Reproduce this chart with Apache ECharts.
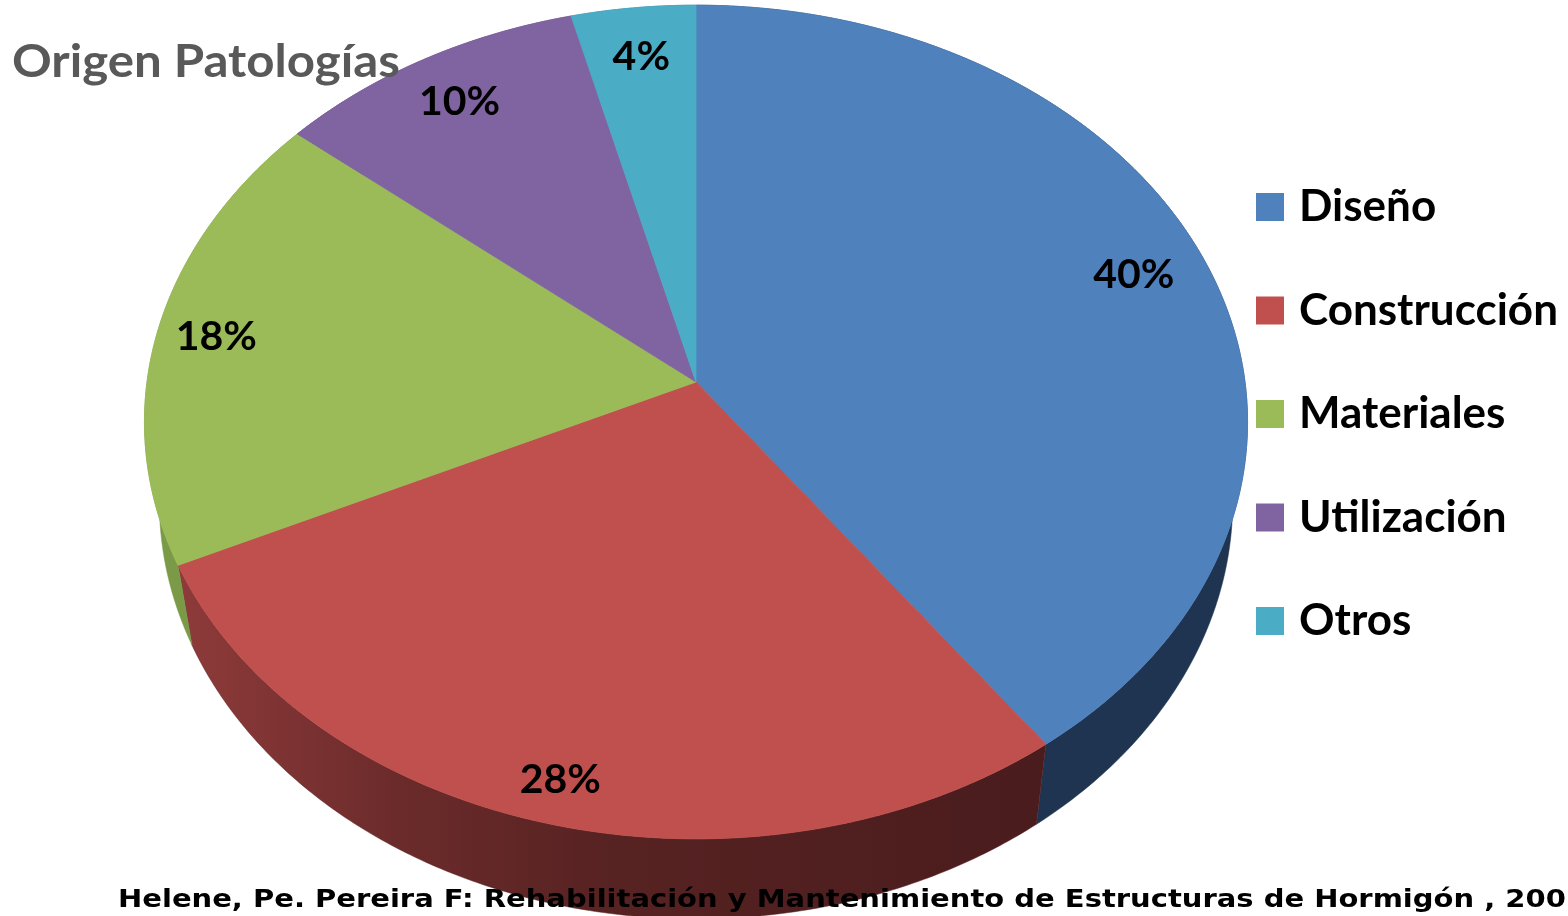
<!DOCTYPE html>
<html>
<head>
<meta charset="utf-8">
<title>Origen Patologías</title>
<script src="https://cdn.jsdelivr.net/npm/echarts@6/dist/echarts.min.js"></script>
<style>
  html, body { margin: 0; padding: 0; background: #fff; }
  #chart { width: 1568px; height: 916px; }
</style>
</head>
<body>
<div id="chart"></div>
<script>
// data
const categories = ['Diseño', 'Construcción', 'Materiales', 'Utilización', 'Otros']
const shares = [40, 28, 18, 10, 4]

// colours
const topColors = ['#4f81bd', '#c0504d', '#9bbb59', '#8064a2', '#4bacc6']
const sideColors = ['#1f3450', null, '#7b9a47', '#4c3a62', '#2d6f80']

// pie geometry (perspective ellipse)
const CX = 696, CY = 382, RX = 549, RY = 413
const PERSP = 0.096
const DEPTH = 80
const BOTTOM_SHRINK = 0.973
// how far out each % label sits (fraction of radius)
const labelRadius = [0.86, 0.91, 0.89, 0.86, 0.86]

const total = shares.reduce((a, b) => a + b, 0)
const startAngles = []
let acc = 0
shares.forEach(v => {
  startAngles.push(acc / total * Math.PI * 2)
  acc += v
})

function proj(theta, f, bottom) {
  const u = f * Math.sin(theta)
  const v = -f * Math.cos(theta)
  const d = 1 - PERSP * v
  let x = CX + RX * u / d
  let y = CY + RY * v / d
  if (bottom) {
    x = CX + (x - CX) * BOTTOM_SHRINK
    y += DEPTH
  }
  return [x, y]
}

function arc(a0, a1, bottom) {
  const n = Math.max(8, Math.ceil((a1 - a0) / 0.01))
  const pts = []
  for (let k = 0; k <= n; k++) {
    pts.push(proj(a0 + (a1 - a0) * k / n, 1, bottom))
  }
  return pts
}

function sliceRange(i) {
  const a0 = startAngles[i]
  const a1 = a0 + shares[i] / total * Math.PI * 2
  return [a0, a1]
}

const redSide = new echarts.graphic.LinearGradient(0, 0, 1, 0, [
  { offset: 0, color: '#8e3b3a' },
  { offset: 0.25, color: '#6c2b2b' },
  { offset: 0.5, color: '#572222' },
  { offset: 1, color: '#4a1c1d' }
])

function renderSide(params) {
  const i = params.dataIndex
  const [a0, a1] = sliceRange(i)
  const pts = arc(a0, a1, false).concat(arc(a0, a1, true).reverse())
  const fill = sideColors[i] || redSide
  return {
    type: 'polygon',
    shape: { points: pts },
    style: { fill: fill, stroke: sideColors[i] || '#5a2323', lineWidth: 0.5 }
  }
}

function renderTop(params) {
  const i = params.dataIndex
  const [a0, a1] = sliceRange(i)
  const pts = [[CX, CY]].concat(arc(a0, a1, false))
  const mid = proj((a0 + a1) / 2, labelRadius[i], false)
  return {
    type: 'group',
    children: [
      {
        type: 'polygon',
        shape: { points: pts },
        style: { fill: topColors[i], stroke: topColors[i], lineWidth: 0.8 }
      },
      {
        type: 'text',
        z2: 10,
        style: {
          text: shares[i] + '%',
          x: mid[0],
          y: mid[1],
          align: 'center',
          verticalAlign: 'middle',
          fontSize: 41,
          fontWeight: 'bold',
          fontFamily: 'Lato',
          fill: '#000'
        }
      }
    ]
  }
}

const seriesData = shares.map((v, i) => ({ value: v, name: categories[i] }))

const chart = echarts.init(document.getElementById('chart'))

chart.setOption({
  animation: false,
  legend: {
    orient: 'vertical',
    left: 1256,
    top: 185,
    padding: 0,
    icon: 'rect',
    itemWidth: 28,
    itemHeight: 28,
    itemGap: 59.5,
    selectedMode: false,
    data: categories,
    textStyle: {
      fontSize: 44,
      fontWeight: 'bold',
      fontFamily: 'Lato',
      color: '#000',
      padding: [0, 0, 0, 10]
    }
  },
  graphic: [
    {
      // chart title
      type: 'text',
      x: 12,
      y: 62,
      scaleX: 1.07,
      z: 100,
      style: {
        text: 'Origen Patologías',
        fontSize: 46,
        fontWeight: 'bold',
        fontFamily: 'Lato',
        fill: '#595959',
        verticalAlign: 'middle'
      }
    },
    {
      // source note
      type: 'text',
      x: 118,
      y: 900,
      scaleX: 1.16,
      z: 100,
      style: {
        text: 'Helene, Pe. Pereira F: Rehabilitación y Mantenimiento de Estructuras de Hormigón , 200',
        fontSize: 25,
        fontWeight: 'bold',
        fontFamily: 'DejaVu Sans',
        fill: '#000',
        verticalAlign: 'middle'
      }
    }
  ],
  series: [
    {
      // only feeds the legend
      type: 'pie',
      radius: [0, 0],
      center: [-100, -100],
      silent: true,
      label: { show: false },
      data: seriesData.map((d, i) => ({ ...d, itemStyle: { color: topColors[i] } }))
    },
    {
      type: 'custom',
      coordinateSystem: 'none',
      silent: true,
      z: 1,
      renderItem: renderSide,
      data: seriesData
    },
    {
      type: 'custom',
      coordinateSystem: 'none',
      silent: true,
      z: 2,
      renderItem: renderTop,
      data: seriesData
    }
  ]
})

window.addEventListener('resize', () => chart.resize())
</script>
</body>
</html>
